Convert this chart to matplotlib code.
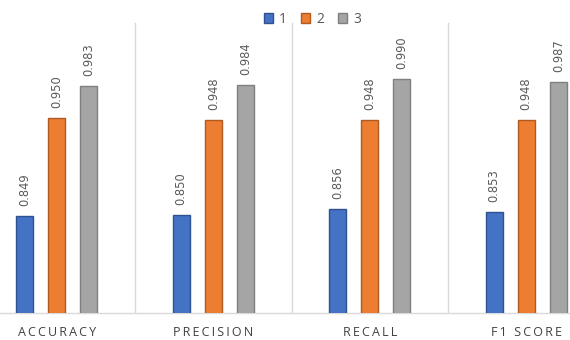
import matplotlib
matplotlib.use("Agg")
import matplotlib.pyplot as plt
import numpy as np

categories = ["ACCURACY", "PRECISION", "RECALL", "F1 SCORE"]
series_names = ["1", "2", "3"]
values_1 = [0.849, 0.850, 0.856, 0.853]
values_2 = [0.950, 0.948, 0.948, 0.948]
values_3 = [0.983, 0.984, 0.990, 0.987]

fills = ["#4472C4", "#ED7D31", "#A5A5A5"]
edges = ["#2F528F", "#AE5A21", "#7F7F7F"]
text_color = "#595959"

plt.rcParams["font.family"] = ["Open Sans", "DejaVu Sans"]

fig = plt.figure(figsize=(5.7, 3.4), dpi=100)
ax = fig.add_axes([-21.5 / 570, 27.3 / 340, 626 / 570, 292.4 / 340])

x = np.arange(len(categories))
width = 0.109
step = 0.2045
all_series = [values_1, values_2, values_3]
for i, vals in enumerate(all_series):
    pos = x + (i - 1) * step
    bars = ax.bar(pos, vals, width, bottom=0, color=fills[i], edgecolor=edges[i],
                  linewidth=1.0, label=series_names[i], zorder=3)
    for b, v in zip(bars, vals):
        ax.annotate(f"{v:.3f}", (b.get_x() + b.get_width() / 2, v),
                    xytext=(0, 10), textcoords="offset pixels",
                    rotation=90, ha="center", va="bottom",
                    fontsize=8.3, family="DejaVu Sans", color=text_color)

ax.set_ylim(0.75, 1.05)
ax.set_xlim(-0.5, len(categories) - 0.5)

# category separators
for b in np.arange(0.5, len(categories) - 0.5, 1.0):
    ax.axvline(b, ymin=0, ymax=0.992, color="#D9D9D9", linewidth=1.0, zorder=1)

for s in ["top", "right", "left"]:
    ax.spines[s].set_visible(False)
ax.spines["bottom"].set_color("#D9D9D9")
ax.spines["bottom"].set_linewidth(1.0)
ax.set_yticks([])
ax.set_xticks(x)
ax.set_xticklabels(["\u2009".join(c) for c in categories], fontsize=9, color="#404040")
ax.tick_params(axis="x", length=0, pad=9.5)

leg = fig.legend(loc="upper center", bbox_to_anchor=(0.548, 1.0), ncol=3, frameon=False,
                 fontsize=10, handlelength=0.65, handleheight=0.65, handletextpad=0.45,
                 columnspacing=1.0, borderaxespad=0.45)
for t in leg.get_texts():
    t.set_color(text_color)

fig.savefig("out.png", dpi=100)
